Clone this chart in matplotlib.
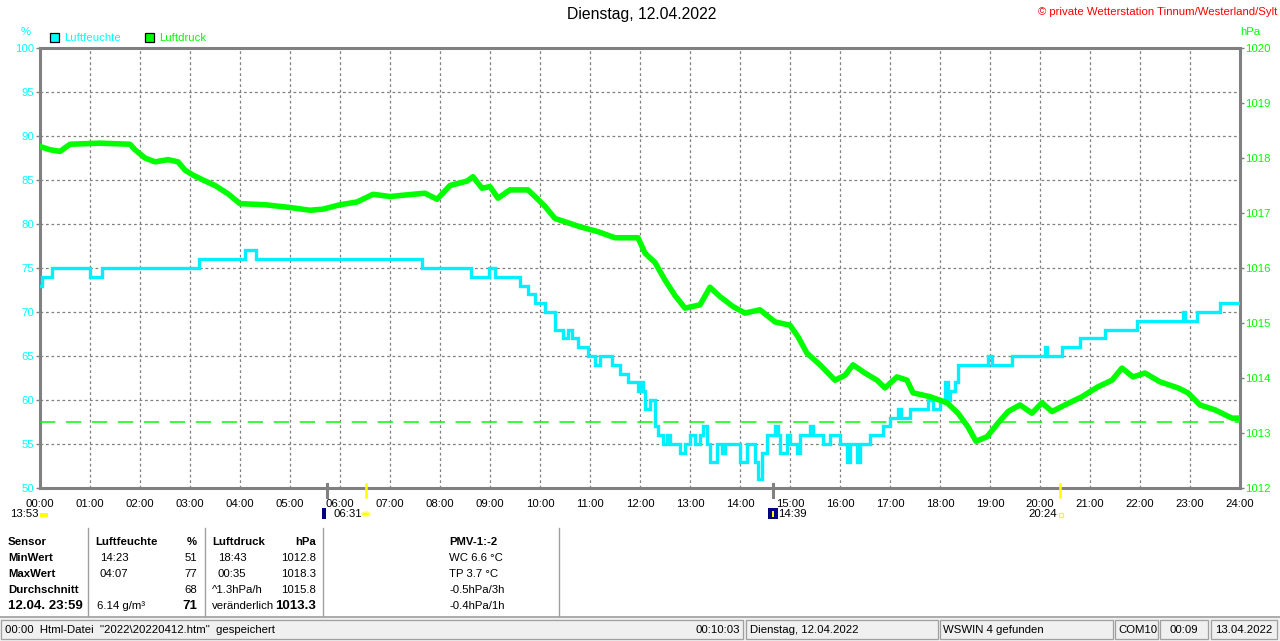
import matplotlib
matplotlib.use("Agg")
import matplotlib.pyplot as plt
from matplotlib.patches import Rectangle, Circle
import numpy as np

plt.rcParams['font.family'] = ['Liberation Sans', 'DejaVu Sans']

W, H = 1280, 641

# ---------------- data ----------------
hum_t = [0.00, 0.03, 0.23, 1.00, 1.24, 3.18, 4.10, 4.32, 7.63, 8.61, 8.97, 9.10, 9.60, 9.76, 9.90,
         10.10, 10.30, 10.46, 10.56, 10.64, 10.76, 10.96, 11.10, 11.20, 11.44, 11.60, 11.76, 11.96,
         12.02, 12.06, 12.10, 12.20, 12.30, 12.36, 12.46, 12.54, 12.60, 12.80, 12.90, 13.00, 13.10,
         13.20, 13.26, 13.34, 13.40, 13.54, 13.64, 13.70, 14.00, 14.14, 14.30, 14.36, 14.44, 14.54,
         14.70, 14.76, 14.80, 14.94, 15.00, 15.14, 15.20, 15.40, 15.46, 15.66, 15.80, 16.00, 16.14,
         16.20, 16.34, 16.40, 16.60, 16.86, 17.00, 17.16, 17.22, 17.40, 17.76, 17.86, 18.00, 18.10,
         18.16, 18.20, 18.30, 18.36, 18.96, 19.04, 19.44, 20.10, 20.14, 20.44, 20.80, 21.30, 21.94,
         22.86, 22.90, 23.14, 23.60, 24.00]
hum_v = [73, 74, 75, 74, 75, 76, 77, 76, 75, 74, 75, 74, 73, 72, 71,
         70, 68, 67, 68, 67, 66, 65, 64, 65, 64, 63, 62, 61,
         62, 61, 59, 60, 57, 56, 55, 56, 55, 54, 55, 56, 55,
         56, 57, 55, 53, 55, 54, 55, 53, 55, 53, 51, 54, 56,
         57, 56, 54, 56, 55, 54, 56, 57, 56, 55, 56, 55, 53,
         55, 53, 55, 56, 57, 58, 59, 58, 59, 60, 59, 60, 62,
         60, 61, 62, 64, 65, 64, 65, 66, 65, 66, 67, 68, 69,
         70, 69, 70, 71, 71]

pres_t = [0.0, 0.2, 0.4, 0.6, 1.2, 1.8, 1.9, 2.1, 2.3, 2.56, 2.76, 2.9, 3.06, 3.26, 3.5, 3.76, 4.0,
          4.5, 5.0, 5.4, 5.66, 6.0, 6.34, 6.66, 7.0, 7.34, 7.7, 7.94, 8.2, 8.54, 8.66, 8.84, 9.0,
          9.16, 9.4, 9.76, 9.9, 10.1, 10.3, 10.5, 10.8, 11.16, 11.5, 11.96, 12.1, 12.3, 12.5, 12.7,
          12.9, 13.2, 13.4, 13.6, 13.86, 14.1, 14.4, 14.7, 15.0, 15.16, 15.34, 15.6, 15.9, 16.1,
          16.26, 16.5, 16.74, 16.9, 17.14, 17.34, 17.46, 17.8, 18.14, 18.36, 18.56, 18.72, 18.94,
          19.16, 19.36, 19.6, 19.84, 20.04, 20.24, 20.5, 20.84, 21.16, 21.44, 21.64, 21.86, 22.1,
          22.4, 22.76, 22.96, 23.2, 23.5, 23.84, 24.0]
pres_v = [1018.21, 1018.15, 1018.12, 1018.25, 1018.27, 1018.25, 1018.15, 1018.0, 1017.93, 1017.97,
          1017.93, 1017.78, 1017.69, 1017.6, 1017.5, 1017.35, 1017.17, 1017.15, 1017.1, 1017.05,
          1017.07, 1017.15, 1017.2, 1017.34, 1017.3, 1017.33, 1017.36, 1017.25, 1017.5, 1017.58,
          1017.66, 1017.45, 1017.48, 1017.27, 1017.42, 1017.42, 1017.3, 1017.12, 1016.9, 1016.84,
          1016.75, 1016.66, 1016.55, 1016.55, 1016.27, 1016.1, 1015.78, 1015.5, 1015.27, 1015.33,
          1015.65, 1015.48, 1015.3, 1015.18, 1015.24, 1015.02, 1014.96, 1014.75, 1014.45, 1014.24,
          1013.96, 1014.05, 1014.24, 1014.09, 1013.96, 1013.82, 1014.02, 1013.96, 1013.73, 1013.66,
          1013.55, 1013.36, 1013.11, 1012.85, 1012.93, 1013.18, 1013.39, 1013.51, 1013.36, 1013.55,
          1013.39, 1013.51, 1013.66, 1013.84, 1013.96, 1014.18, 1014.02, 1014.09, 1013.93, 1013.82,
          1013.73, 1013.51, 1013.42, 1013.27, 1013.27]

pres_ref = 1013.2

hours = list(range(0, 25))
hour_labels = ["%02d:00" % h for h in hours]
hum_ticks = list(range(50, 101, 5))
pres_ticks = list(range(1012, 1021))

title = "Dienstag, 12.04.2022"
copyright_txt = "© private Wetterstation Tinnum/Westerland/Sylt"

sun_rise = 6 + 31 / 60
sun_set = 20 + 24 / 60
moon_set = 5 + 44 / 60
moon_rise = 14 + 39 / 60

table_rows = [
    ["Sensor", "Luftfeuchte", "%", "Luftdruck", "hPa", "PMV-1:-2"],
    ["MinWert", "14:23", "51", "18:43", "1012.8", "WC 6.6 °C"],
    ["MaxWert", "04:07", "77", "00:35", "1018.3", "TP 3.7 °C"],
    ["Durchschnitt", "", "68", "^1.3hPa/h", "1015.8", "-0.5hPa/3h"],
    ["12.04. 23:59", "6.14 g/m³", "71", "veränderlich", "1013.3", "-0.4hPa/1h"],
]

status_items = ['00:00  Html-Datei  "2022\\20220412.htm"  gespeichert', "00:10:03",
                "Dienstag, 12.04.2022", "WSWIN 4 gefunden", "COM10", "00:09", "13.04.2022"]

# ---------------- styling ----------------
CYAN = "#00ffff"
HUMC = "#00f0ff"
GREEN = "#00ff00"
GRAY = "#808080"
FS = 8.2

fig = plt.figure(figsize=(W / 100, H / 100), dpi=100)
fig.patch.set_facecolor("white")


def fx(x):
    return x / W


def fy(y):
    return 1 - y / H


L, R, T, B = 40, 1240, 48, 488
ax = fig.add_axes([fx(L), fy(B), (R - L) / W, (B - T) / H])
ax2 = ax.twinx()

ax.set_xlim(0, 24)
ax.set_ylim(50, 100)
ax2.set_ylim(1012, 1020)

ax.set_xticks(hours)
ax.set_xticklabels(hour_labels, fontsize=FS, color="black")
ax.tick_params(axis="x", length=0, pad=8)
ax.set_yticks(hum_ticks)
ax.set_yticklabels([str(v) for v in hum_ticks], fontsize=FS, color=CYAN)
ax.tick_params(axis="y", direction="out", length=3, width=1, color=GRAY, pad=1)
ax2.set_yticks(pres_ticks)
ax2.set_yticklabels([str(v) for v in pres_ticks], fontsize=FS, color=GREEN)
ax2.tick_params(axis="y", direction="out", length=3, width=1, color=GRAY, pad=1)

ax.grid(True, color=GRAY, linestyle=(0, (2.2, 2.2)), linewidth=0.9)
for sp in ax.spines.values():
    sp.set_color(GRAY)
    sp.set_linewidth(2.2)
for sp in ax2.spines.values():
    sp.set_visible(False)

ax.step(hum_t, hum_v, where="post", color=HUMC, linewidth=2.4, solid_joinstyle="miter", zorder=3)
ax2.plot(pres_t, pres_v, color=GREEN, linewidth=4.0, zorder=4)
ax2.axhline(pres_ref, color=GREEN, linewidth=1.1, linestyle=(0, (10, 7)), zorder=2)

# special ticks below axis (moon / sun)
for t, c in [(moon_set, GRAY), (moon_rise, GRAY), (sun_rise, "#ffff00"), (sun_set, "#ffff00")]:
    xp = L + t / 24 * (R - L)
    fig.add_artist(plt.Line2D([fx(xp), fx(xp)], [fy(484), fy(497)], color=c,
                              linewidth=2.2 if c == GRAY else 1.8))

# axis unit labels and legend
fig.text(fx(26), fy(32), "%", color=CYAN, fontsize=FS, ha="center", va="center")
fig.text(fx(1250), fy(32), "hPa", color=GREEN, fontsize=FS, ha="center", va="center")
fig.add_artist(Rectangle((fx(50), fy(42)), 9 / W, 9 / H, facecolor=CYAN, edgecolor="black", lw=0.9))
fig.text(fx(64), fy(38), "Luftfeuchte", color=CYAN, fontsize=FS, va="center")
fig.add_artist(Rectangle((fx(145), fy(42)), 9 / W, 9 / H, facecolor=GREEN, edgecolor="black", lw=0.9))
fig.text(fx(159), fy(38), "Luftdruck", color=GREEN, fontsize=FS, va="center")

fig.text(fx(642), fy(15), title, fontsize=11.3, ha="center", va="center", color="black")
fig.text(fx(1277), fy(12), copyright_txt, fontsize=FS, ha="right", va="center", color="#ff0000")

# second row of time annotations
fig.text(fx(10), fy(514), "13:53", fontsize=FS, va="center")
fig.add_artist(Rectangle((fx(40), fy(517)), 8 / W, 4 / H, facecolor="#ffff00", edgecolor="none"))
fig.add_artist(Rectangle((fx(322), fy(519)), 4 / W, 11 / H, facecolor="#000080", edgecolor="none"))
fig.text(fx(333), fy(514), "06:31", fontsize=FS, va="center")
fig.add_artist(Circle((fx(366), fy(514)), 4 / W, facecolor="#ffff00", edgecolor="#ffff80",
                      lw=1.2, transform=fig.transFigure))
fig.add_artist(Rectangle((fx(768), fy(519)), 10 / W, 11 / H, facecolor="#000080", edgecolor="none"))
fig.add_artist(Rectangle((fx(772), fy(517)), 2 / W, 6 / H, facecolor="#ffff00", edgecolor="none"))
fig.text(fx(778), fy(514), "14:39", fontsize=FS, va="center")
fig.text(fx(1028), fy(514), "20:24", fontsize=FS, va="center")
fig.add_artist(Rectangle((fx(1059), fy(517)), 4 / W, 4 / H, facecolor="none", edgecolor="#ffff00", lw=0.9))

# table
row_y = [542, 558, 574, 590, 606]
col_spec = [(8, "left"), (100, "left"), (197, "right"), (218, "left"), (316, "right"), (449, "left")]
for r, row in enumerate(table_rows):
    for c, txt in enumerate(row):
        if not txt:
            continue
        x, ha = col_spec[c]
        bold = (r == 0) or (c == 0) or (r == 4 and c in (2, 4))
        if r == 0 and c in (1,):
            x, ha = 95, "left"
        if r == 0 and c == 3:
            x = 212
        if r == 0 and c == 5:
            x = 449
        if r >= 3 and c == 3:
            x = 212
        if r == 4 and c == 1:
            x = 97
        fs = FS
        if r == 4 and c in (0, 2, 4):
            fs = FS + 1.3
        fig.text(fx(x), fy(row_y[r]), txt, fontsize=fs, ha=ha, va="center",
                 fontweight="bold" if bold else "normal", color="black")
for xv in [88, 205, 323, 559]:
    fig.add_artist(plt.Line2D([fx(xv), fx(xv)], [fy(528), fy(616)], color="#a0a0a0", lw=1.0))

# status bar
fig.add_artist(Rectangle((0, 0), 1, fy(616), facecolor="#f0f0f0", edgecolor="none"))
fig.add_artist(plt.Line2D([0, 1], [fy(616.5), fy(616.5)], color="#a0a0a0", lw=1.2))
panels = [(1, 743), (746, 938), (940, 1113), (1115, 1158), (1160, 1208), (1211, 1277)]
for a, b in panels:
    fig.add_artist(Rectangle((fx(a), fy(639)), (b - a) / W, 19 / H, facecolor="none",
                             edgecolor="#a0a0a0", lw=0.9))
fig.text(fx(5), fy(630), status_items[0], fontsize=FS, va="center")
fig.text(fx(740), fy(630), status_items[1], fontsize=FS, va="center", ha="right")
fig.text(fx(750), fy(630), status_items[2], fontsize=FS, va="center")
fig.text(fx(943), fy(630), status_items[3], fontsize=FS, va="center")
fig.text(fx(1118), fy(630), status_items[4], fontsize=FS, va="center")
fig.text(fx(1184), fy(630), status_items[5], fontsize=FS, va="center", ha="center")
fig.text(fx(1244), fy(630), status_items[6], fontsize=FS, va="center", ha="center")

fig.savefig("out.png", dpi=100)
